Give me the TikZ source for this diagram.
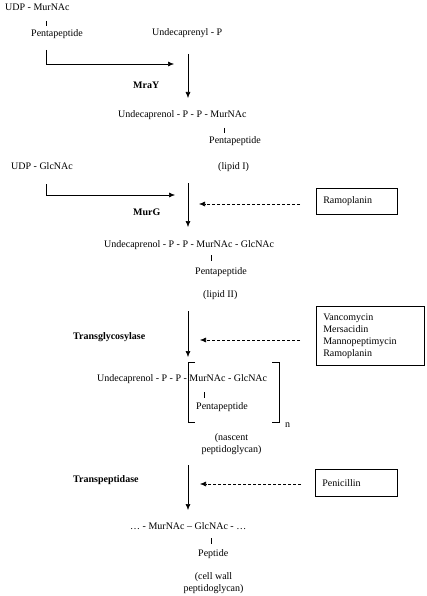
\documentclass[tikz,border=0pt]{standalone}
\usepackage{fontspec}
\setmainfont{Liberation Serif}
\usetikzlibrary{arrows.meta}
\begin{document}
\begin{tikzpicture}[x=1pt,y=-1pt,
  txt/.style={anchor=base west, inner sep=0pt, font=\fontsize{10}{12}\selectfont},
  ctxt/.style={anchor=base, inner sep=0pt, font=\fontsize{10}{12}\selectfont},
  enz/.style={anchor=base west, inner sep=0pt, font=\fontsize{10}{12}\selectfont\bfseries},
  flow/.style={line width=0.6pt, -{Latex[length=6pt,width=5pt]}},
  inhib/.style={line width=0.6pt, dash pattern=on 3pt off 2pt, -{Latex[length=6pt,width=5pt]}},
  bond/.style={line width=0.5pt},
  brk/.style={line width=0.7pt},
  drugbox/.style={draw, line width=0.6pt, inner xsep=7pt, inner ysep=0pt, align=left, anchor=north west, font=\fontsize{10}{12}\selectfont}
]
\useasboundingbox (0,0) rectangle (426,596);

% texts
\node[txt] (udpm) at (5,11) {UDP - MurNAc};
\node[txt] (pp1) at (31,37) {Pentapeptide};
\node[txt] (undp) at (152,36) {Undecaprenyl - P};
\node[enz] (mray) at (133,89) {MraY};
\node[txt] (lip1) at (118,118) {Undecaprenol - P - P - MurNAc};
\node[txt] (pp2) at (209,144) {Pentapeptide};
\node[txt] (lipI) at (218,169) {(lipid I)};
\node[txt] (udpg) at (11,169) {UDP - GlcNAc};
\node[enz] (murg) at (133,215) {MurG};
\node[txt] (lip2) at (104,247) {Undecaprenol - P - P - MurNAc - GlcNAc};
\node[txt] (pp3) at (195,274.5) {Pentapeptide};
\node[txt] (lipII) at (203,297) {(lipid II)};
\node[enz] (tg) at (73,339.5) {Transglycosylase};
\node[txt] (nasc) at (97,381.5) {Undecaprenol - P - P - MurNAc - GlcNAc};
\node[txt] (pp4) at (196,409) {Pentapeptide};
\node[txt] (nn) at (285,427) {n};
\node[ctxt] (nasc1) at (231.5,440.5) {(nascent};
\node[ctxt] (nasc2) at (231.5,452.5) {peptidoglycan)};
\node[enz] (tp) at (73,482.5) {Transpeptidase};
\node[txt] (cw) at (130,529.5) {… - MurNAc – GlcNAc - …};
\node[txt] (pep) at (198,556.5) {Peptide};
\node[ctxt] (cw1) at (213.5,579.5) {(cell wall};
\node[ctxt] (cw2) at (213.5,591.5) {peptidoglycan)};

% inhibitor boxes
\node[drugbox, text width=67pt, minimum height=26pt] (ramo) at (316,188) {Ramoplanin};
\node[drugbox, text width=94pt, minimum height=59pt] (glyco) at (316,306) {Vancomycin\\Mersacidin\\Mannopeptimycin\\Ramoplanin};
\node[drugbox, text width=68pt, minimum height=27pt] (pen) at (315,469) {Penicillin};

% bonds
\coordinate (b1t) at (46,21);  \coordinate (b1b) at (46,26);
\coordinate (b2t) at (224,128); \coordinate (b2b) at (224,133);
\coordinate (b3t) at (211,255); \coordinate (b3b) at (211,261);
\coordinate (b4t) at (204,392); \coordinate (b4b) at (204,398);
\coordinate (b5t) at (211,538); \coordinate (b5b) at (211,544);
\draw[bond] (b1t) -- (b1b);
\draw[bond] (b2t) -- (b2b);
\draw[bond] (b3t) -- (b3b);
\draw[bond] (b4t) -- (b4b);
\draw[bond] (b5t) -- (b5b);

% main pathway arrows
\coordinate (m1s) at (188,54);  \coordinate (m1e) at (188,98);
\coordinate (m2s) at (188,183); \coordinate (m2e) at (188,227);
\coordinate (m3s) at (188,311); \coordinate (m3e) at (188,357);
\coordinate (m4s) at (188,465); \coordinate (m4e) at (188,510);
\draw[flow] (m1s) -- (m1e);
\draw[flow] (m2s) -- (m2e);
\draw[flow] (m3s) -- (m3e);
\draw[flow] (m4s) -- (m4e);

% substrate feed arrows
\coordinate (l1s) at (46,50);  \coordinate (l1e) at (174,64);
\coordinate (l2s) at (46,184); \coordinate (l2e) at (175,195);
\draw[flow] (l1s) |- (l1e);
\draw[flow] (l2s) |- (l2e);

% inhibition arrows
\coordinate (d1s) at (300,204); \coordinate (d1e) at (199,204);
\coordinate (d2s) at (300,340); \coordinate (d2e) at (200,340);
\coordinate (d3s) at (301,484); \coordinate (d3e) at (200,484);
\draw[inhib] (d1s) -- (d1e);
\draw[inhib] (d2s) -- (d2e);
\draw[inhib] (d3s) -- (d3e);

% repeat-unit brackets
\coordinate (bl1) at (195,362); \coordinate (bl2) at (188,362);
\coordinate (bl3) at (188,422); \coordinate (bl4) at (195,422);
\coordinate (br1) at (272,362); \coordinate (br2) at (279,362);
\coordinate (br3) at (279,422); \coordinate (br4) at (272,422);
\draw[brk] (bl1) -- (bl2) -- (bl3) -- (bl4);
\draw[brk] (br1) -- (br2) -- (br3) -- (br4);
\end{tikzpicture}
\end{document}
